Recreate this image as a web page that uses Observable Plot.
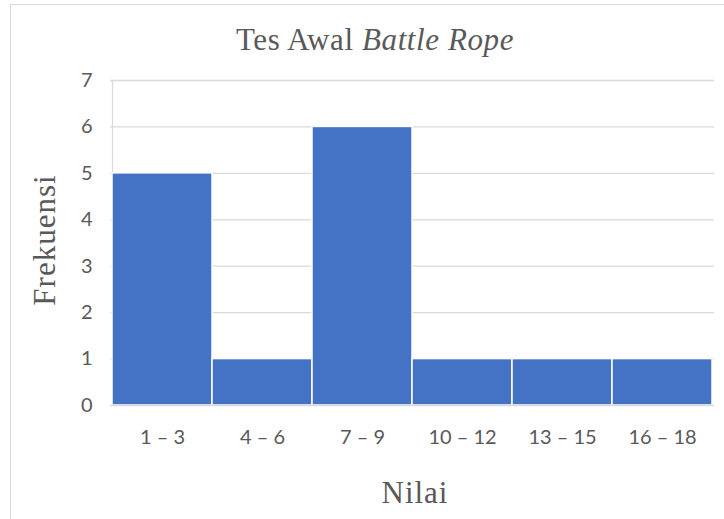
<!DOCTYPE html>
<html>
<head>
<meta charset="utf-8">
<script src="https://cdn.jsdelivr.net/npm/d3@7"></script>
<script src="https://cdn.jsdelivr.net/npm/@observablehq/plot@0.6"></script>
<style>
  html, body { margin: 0; padding: 0; background: #fff; }
  #wrap { position: relative; width: 724px; height: 519px; overflow: hidden; }
  #frame { position: absolute; left: 10px; top: 4px; width: 730px; height: 530px; border: 1px solid #d9d9d9; box-sizing: border-box; }
  .t { position: absolute; color: #595959; font-family: "Liberation Serif", serif; white-space: nowrap; line-height: 1; }
  #title { left: 375px; top: 39px; font-size: 31px; letter-spacing: 0.6px; transform: translate(-50%, -50%); }
  #ylab { left: 44px; top: 240px; font-size: 31px; letter-spacing: 1px; transform: translate(-50%, -50%) rotate(-90deg); }
  #xlab { left: 415px; top: 492px; font-size: 31px; letter-spacing: 1px; transform: translate(-50%, -50%); }
  #chart { position: absolute; left: 0; top: 0; }
</style>
</head>
<body>
<div id="wrap">
  <div id="frame"></div>
  <div id="chart"></div>
  <div class="t" id="title">Tes Awal <i>Battle Rope</i></div>
  <div class="t" id="ylab">Frekuensi</div>
  <div class="t" id="xlab">Nilai</div>
</div>
<script>
const categories = ["1 – 3", "4 – 6", "7 – 9", "10 – 12", "13 – 15", "16 – 18"];
const frequencies = [5, 1, 6, 1, 1, 1];
const yTicks = [0, 1, 2, 3, 4, 5, 6, 7];

const data = categories.map((c, i) => ({ cat: c, freq: frequencies[i] }));

const chart = Plot.plot({
  width: 724,
  height: 519,
  marginTop: 80,
  marginBottom: 114,
  marginLeft: 110,
  marginRight: 10,
  style: { fontFamily: "Lato, sans-serif", fontSize: "20px", color: "#595959", background: "transparent" },
  x: { domain: categories, padding: 0, label: null },
  y: { domain: [0, 7], ticks: yTicks, label: null },
  marks: [
    Plot.ruleY(yTicks.filter(d => d > 0), { stroke: "#d9d9d9", strokeWidth: 1.3, strokeOpacity: 1 }),
    Plot.ruleX([0], { x: () => categories[0], y1: 0, y2: 7, stroke: "#d9d9d9", strokeWidth: 1.3, dx: -50 }),
    Plot.barY(data, { x: "cat", y: "freq", fill: "#4472c4", stroke: "#ffffff", strokeWidth: 1.5 }),
    Plot.ruleY([0], { stroke: "#d9d9d9", strokeWidth: 1.3 }),
    Plot.axisY({ ticks: yTicks, tickFormat: d3.format("d"), tickSize: 0, tickPadding: 18, fill: "#595959", fontSize: 20, label: null }),
    Plot.axisX({ tickSize: 0, tickPadding: 24, fill: "#595959", fontSize: 20, label: null, textStroke: "none" })
  ]
});
document.getElementById("chart").appendChild(chart);
</script>
</body>
</html>
